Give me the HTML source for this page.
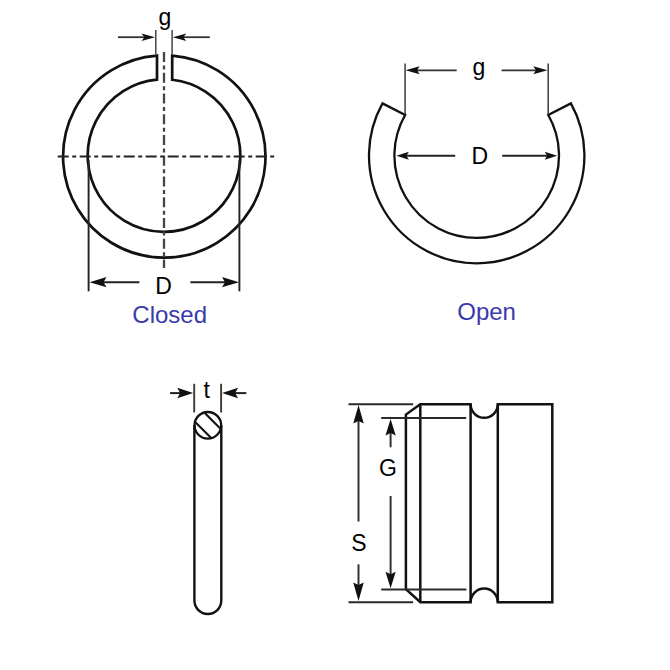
<!DOCTYPE html>
<html><head><meta charset="utf-8"><style>
html,body{margin:0;padding:0;background:#fff;width:670px;height:670px;overflow:hidden}
svg{display:block;font-family:"Liberation Sans",sans-serif}
</style></head><body>
<svg width="670" height="670" viewBox="0 0 670 670">
<rect width="670" height="670" fill="#fff"/>
<path d="M157,55.56 A101.2,101.2 0 1,0 172.2,55.61 L172.2,79.74 A76.3,76.3 0 1,1 157,79.62 Z" fill="none" stroke="#111" stroke-width="2.7"/>
<line x1="164" y1="52" x2="164" y2="268" stroke="#454545" stroke-width="2.3" stroke-dasharray="10 3.4 4 3.35"/>
<line x1="57.7" y1="156.5" x2="275" y2="156.5" stroke="#222" stroke-width="2" stroke-dasharray="11 3.5 4 3.5"/>
<line x1="155.8" y1="30" x2="155.8" y2="54" stroke="#444" stroke-width="1.5" />
<line x1="172.1" y1="30" x2="172.1" y2="54" stroke="#444" stroke-width="1.5" />
<line x1="118" y1="37.2" x2="146" y2="37.2" stroke="#333" stroke-width="1.8" />
<path d="M155.00,37.20 L141.50,41.00 L144.50,37.20 L141.50,33.40Z" fill="#111"/>
<line x1="181" y1="37.2" x2="209.8" y2="37.2" stroke="#333" stroke-width="1.8" />
<path d="M172.80,37.20 L186.30,33.40 L183.30,37.20 L186.30,41.00Z" fill="#111"/>
<text x="164.8" y="24.5" font-size="23" fill="#000" text-anchor="middle">g</text>
<line x1="88.6" y1="160" x2="88.6" y2="291.3" stroke="#222" stroke-width="1.9" />
<line x1="239.4" y1="160" x2="239.4" y2="291.3" stroke="#222" stroke-width="1.9" />
<line x1="100" y1="282.2" x2="139.4" y2="282.2" stroke="#222" stroke-width="2" />
<path d="M89.50,282.20 L106.50,277.10 L103.50,282.20 L106.50,287.30Z" fill="#111"/>
<line x1="190.4" y1="282.2" x2="228" y2="282.2" stroke="#222" stroke-width="2" />
<path d="M239.00,282.20 L222.00,287.30 L225.00,282.20 L222.00,277.10Z" fill="#111"/>
<text x="163.6" y="293.7" font-size="23" fill="#000" text-anchor="middle">D</text>
<text x="169.7" y="322.5" font-size="24" fill="#3a3aab" text-anchor="middle">Closed</text>
<path d="M382.50,103.39 A107.7,107.7 0 1,0 570.90,103.39 L548.26,114.95 A82.3,82.3 0 1,1 405.14,114.95 Z" fill="none" stroke="#111" stroke-width="2.3" stroke-linejoin="miter"/>
<line x1="405.1" y1="63.4" x2="405.1" y2="114" stroke="#3a3a3a" stroke-width="1.5" />
<line x1="548.2" y1="63.4" x2="548.2" y2="114" stroke="#3a3a3a" stroke-width="1.5" />
<line x1="414" y1="70.3" x2="456.7" y2="70.3" stroke="#333" stroke-width="1.8" />
<path d="M405.60,70.30 L419.60,66.30 L417.10,70.30 L419.60,74.30Z" fill="#111"/>
<line x1="501.5" y1="70.3" x2="540" y2="70.3" stroke="#333" stroke-width="1.8" />
<path d="M547.40,70.30 L533.40,74.30 L535.90,70.30 L533.40,66.30Z" fill="#111"/>
<text x="479" y="74.5" font-size="23" fill="#000" text-anchor="middle">g</text>
<line x1="404" y1="155.7" x2="455.2" y2="155.7" stroke="#222" stroke-width="2" />
<path d="M396.40,155.70 L408.90,151.70 L406.40,155.70 L408.90,159.70Z" fill="#111"/>
<line x1="502.2" y1="155.7" x2="550" y2="155.7" stroke="#222" stroke-width="2" />
<path d="M557.20,155.70 L544.70,159.70 L547.20,155.70 L544.70,151.70Z" fill="#111"/>
<text x="479.8" y="164.2" font-size="23" fill="#000" text-anchor="middle">D</text>
<text x="486.6" y="319.8" font-size="24" fill="#3a3aab" text-anchor="middle">Open</text>
<circle cx="207.85" cy="425.35" r="13.35" fill="none" stroke="#111" stroke-width="2.3"/>
<path d="M194.4,425.35 L194.4,600.6 A13.45,13.45 0 0,0 221.3,600.6 L221.3,425.35" fill="none" stroke="#111" stroke-width="2.4"/>
<line x1="195.40" y1="422.24" x2="210.96" y2="437.80" stroke="#111" stroke-width="2.1"/>
<line x1="204.74" y1="412.90" x2="220.30" y2="428.46" stroke="#111" stroke-width="2.1"/>
<line x1="194.2" y1="383.8" x2="194.2" y2="412.5" stroke="#3a3a3a" stroke-width="1.9" />
<line x1="221.1" y1="383.8" x2="221.1" y2="412.5" stroke="#3a3a3a" stroke-width="1.9" />
<line x1="170.1" y1="393.1" x2="182" y2="393.1" stroke="#222" stroke-width="2" />
<path d="M193.20,393.10 L177.20,398.35 L180.20,393.10 L177.20,387.85Z" fill="#111"/>
<line x1="233" y1="393.1" x2="246.3" y2="393.1" stroke="#222" stroke-width="2" />
<path d="M222.10,393.10 L238.10,387.85 L235.10,393.10 L238.10,398.35Z" fill="#111"/>
<text x="206.6" y="397.6" font-size="23" fill="#000" text-anchor="middle">t</text>
<path d="M420.3,404.2 L470.6,404.2 A13.599999999999994,13.599999999999994 0 0,0 497.8,404.2 L552.3,404.2 L552.3,602.2 L497.8,602.2 A13.599999999999994,13.599999999999994 0 0,0 470.6,602.2 L420.4,602.2 L405.9,589.1 L405.9,414.6 Z" fill="none" stroke="#111" stroke-width="2.5" stroke-linejoin="miter"/>
<line x1="420.3" y1="404.2" x2="420.3" y2="602.2" stroke="#111" stroke-width="2.5" />
<line x1="470.6" y1="404.2" x2="470.6" y2="602.2" stroke="#111" stroke-width="2.5" />
<line x1="497.8" y1="404.2" x2="497.8" y2="602.2" stroke="#111" stroke-width="2.5" />
<line x1="348.5" y1="404.2" x2="413.1" y2="404.2" stroke="#2a2a2a" stroke-width="2" />
<line x1="348.5" y1="602.2" x2="413.1" y2="602.2" stroke="#2a2a2a" stroke-width="2" />
<line x1="381.2" y1="417.9" x2="466.2" y2="417.9" stroke="#2a2a2a" stroke-width="2" />
<line x1="381.2" y1="589.5" x2="466.4" y2="589.5" stroke="#2a2a2a" stroke-width="2" />
<line x1="358.5" y1="420" x2="358.5" y2="521.5" stroke="#333" stroke-width="2" />
<path d="M358.50,405.00 L363.75,423.50 L358.50,421.00 L353.25,423.50Z" fill="#111"/>
<line x1="358.5" y1="564.3" x2="358.5" y2="585" stroke="#333" stroke-width="2" />
<path d="M358.50,601.00 L353.25,582.50 L358.50,585.00 L363.75,582.50Z" fill="#111"/>
<text x="358.8" y="551.1" font-size="23" fill="#000" text-anchor="middle">S</text>
<line x1="390.6" y1="432" x2="390.6" y2="447.3" stroke="#333" stroke-width="2" />
<path d="M390.60,419.00 L395.70,435.50 L390.60,433.00 L385.50,435.50Z" fill="#111"/>
<line x1="390.6" y1="496" x2="390.6" y2="575" stroke="#333" stroke-width="2" />
<path d="M390.60,588.30 L385.50,571.80 L390.60,574.30 L395.70,571.80Z" fill="#111"/>
<text x="387.9" y="476.1" font-size="23" fill="#000" text-anchor="middle">G</text>
</svg>
</body></html>
